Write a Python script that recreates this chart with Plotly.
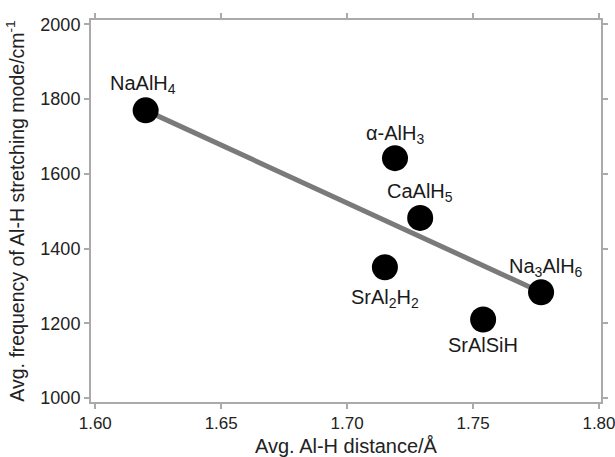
import plotly.graph_objects as go

compounds = ["NaAlH<sub>4</sub>", "α-AlH<sub>3</sub>", "CaAlH<sub>5</sub>",
             "SrAl<sub>2</sub>H<sub>2</sub>", "Na<sub>3</sub>AlH<sub>6</sub>", "SrAlSiH"]
distance = [1.620, 1.719, 1.729, 1.715, 1.777, 1.754]
frequency = [1770, 1642, 1482, 1350, 1283, 1210]

trend_x = [1.620, 1.777]
trend_y = [1770, 1283]

# label offsets in pixels (x, y) relative to marker
label_dx = [-3, 0, 0, 0, 5, 0]
label_dy = [-26, -24, -25, 31, -25, 26]

tick_vals_x = [1.60, 1.65, 1.70, 1.75, 1.80]
tick_vals_y = [1000, 1200, 1400, 1600, 1800, 2000]

FONT = "Liberation Sans, Arial"

fig = go.Figure()
fig.add_trace(go.Scatter(x=trend_x, y=trend_y, mode="lines",
                         line=dict(color="#7a7a7a", width=5), showlegend=False,
                         hoverinfo="skip"))
fig.add_trace(go.Scatter(x=distance, y=frequency, mode="markers",
                         marker=dict(color="black", size=26), showlegend=False))

for name, x, y, dx, dy in zip(compounds, distance, frequency, label_dx, label_dy):
    fig.add_annotation(x=x, y=y, text=name, showarrow=False, xshift=dx, yshift=-dy,
                       font=dict(family=FONT, size=20, color="#1a1a1a"))

axis_common = dict(showline=True, linecolor="#aaaaaa", linewidth=2, mirror="ticks",
                   ticks="outside", tickcolor="#aaaaaa", ticklen=5, tickwidth=1.5,
                   showgrid=False, zeroline=False, automargin=False,
                   ticklabeloverflow="allow")

fig.update_xaxes(range=[1.5983, 1.8008], tickvals=tick_vals_x,
                 ticktext=[f"{v:.2f}" for v in tick_vals_x],
                 tickfont=dict(family=FONT, size=17, color="#222222"),
                 title=dict(text="Avg. Al-H distance/Å", standoff=10,
                            font=dict(family=FONT, size=20, color="#222222")),
                 **axis_common)
fig.update_yaxes(range=[989, 2012], tickvals=tick_vals_y,
                 tickfont=dict(family=FONT, size=18, color="#222222"),
                 title=dict(text="Avg. frequency of Al-H stretching mode/cm<sup>-1</sup>", standoff=11,
                            font=dict(family=FONT, size=19.5, color="#222222")),
                 **axis_common)

fig.update_layout(width=615, height=457, margin=dict(l=91, r=14, t=20, b=55),
                  plot_bgcolor="white", paper_bgcolor="white")

fig.write_html("out.html")
